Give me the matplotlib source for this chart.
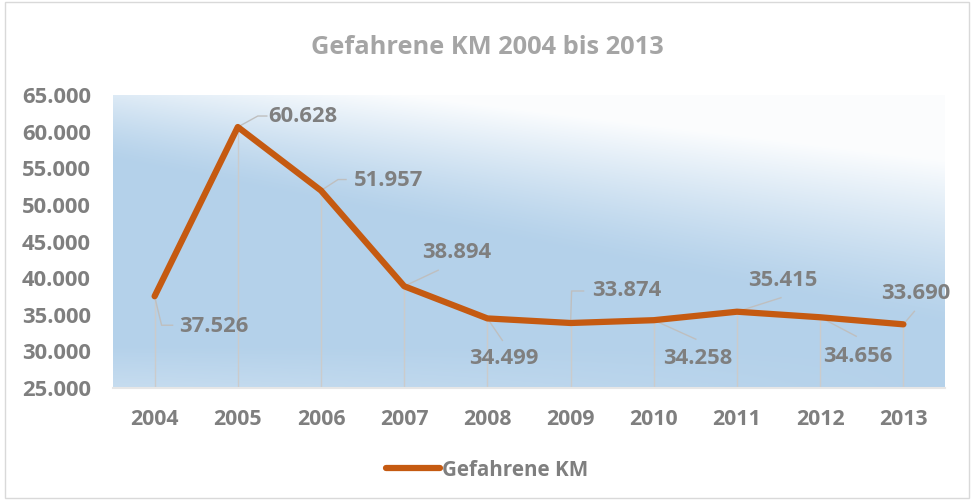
import numpy as np
import matplotlib.pyplot as plt

years = ['2004', '2005', '2006', '2007', '2008', '2009', '2010', '2011', '2012', '2013']
km = [37526, 60628, 51957, 38894, 34499, 33874, 34258, 35415, 34656, 33690]
series_name = 'Gefahrene KM'
title = 'Gefahrene KM 2004 bis 2013'

# label centre offsets in pixels (dx, dy) from each point, y up
label_off = [(59, -30), (65, 11), (68, 10), (52, 34), (16, -40),
             (56, 32), (44, -38), (46, 31), (38, -39), (12, 31)]
# leader line paths (pixel offsets from the point)
leaders = [[(0, 0), (7, -29), (18, -29)],
           [(0, 0), (20, 11), (29, 11)],
           [(0, 0), (17, 11), (25, 11)],
           [(0, 0), (34, 16)],
           [(0, 0), (15, -22)],
           [(0, 0), (1, 32), (13, 32)],
           [(0, 0), (42, -19)],
           [(0, 0), (44, 14)],
           [(0, 0), (36, -19)],
           [(0, 0), (11, 13)]]

plt.rcParams['font.family'] = ['Open Sans', 'DejaVu Sans']
plt.rcParams['font.weight'] = 'bold'
grey = '#7F7F7F'
orange = '#C55A11'

fig = plt.figure(figsize=(9.74, 5), dpi=100)
ax = fig.add_axes([113 / 974, 1 - 388 / 500, 832 / 974, 293 / 500])

# gradient background of the plot area
W, H = 832, 293
px = np.arange(W)[None, :].astype(float)
py = np.arange(H)[:, None].astype(float)
s = (py - 0.12 * px + 35) / (100 + 0.08 * px)
s = np.clip(s, 0, 1)
w = 0.95 * (1 - s) ** 1.3
w = w + np.clip((py - 250) / 43, 0, 1) * 0.25 * (1 - px / W)
w = np.clip(w, 0, 1)
blue = np.array([0.706, 0.820, 0.918])
img = blue[None, None, :] * (1 - w[..., None]) + w[..., None]
ax.imshow(img, extent=[-0.5, 9.5, 25000, 65000], aspect='auto', zorder=0,
          interpolation='bilinear')

x = np.arange(len(years))
ax.vlines(x, 25000, km, color='#CBCBCB', lw=1, zorder=1)
ax.plot(x, km, color=orange, lw=4.5, solid_capstyle='round', zorder=3, label=series_name)

to_pix = ax.transData
inv = ax.transData.inverted()
fig.canvas.draw()
for i, val in enumerate(km):
    p0 = to_pix.transform((x[i], val))
    pts = np.array([inv.transform(p0 + np.array(d)) for d in leaders[i]])
    ax.plot(pts[:, 0], pts[:, 1], color='#BFBFBF', lw=1, zorder=2)
    dx, dy = label_off[i]
    txt = f'{val:,.0f}'.replace(',', '.')
    ax.annotate(txt, (x[i], val), xytext=(dx, dy), textcoords='offset pixels',
                ha='center', va='center', fontsize=15.8, color=grey,
                fontweight='bold', zorder=4)

ax.set_xlim(-0.5, 9.5)
ax.set_ylim(25000, 65000)
ax.set_yticks(range(25000, 65001, 5000))
ax.set_yticklabels([f'{t:,.0f}'.replace(',', '.') for t in range(25000, 65001, 5000)])
ax.set_xticks(x)
ax.set_xticklabels(years)
ax.tick_params(axis='x', length=0, labelsize=15.3, labelcolor=grey, pad=15)
ax.tick_params(axis='y', length=0, labelsize=15.8, labelcolor=grey, pad=16)
for sp in ['top', 'right', 'left']:
    ax.spines[sp].set_visible(False)
ax.spines['bottom'].set_color('#E6E6E6')
ax.spines['bottom'].set_linewidth(1.5)

fig.text(0.5, 1 - 47 / 500, title, ha='center', va='center', fontsize=18.3,
         color='#A5A5A5', fontweight='bold')

leg = fig.legend(loc='center', bbox_to_anchor=(0.5, 1 - 470 / 500), frameon=False,
                 fontsize=14.9, handlelength=2.6, handletextpad=0.1)
for t in leg.get_texts():
    t.set_color(grey)

# outer chart border
fig.patches.append(plt.Rectangle((5 / 974, 2 / 500), 964 / 974, 496 / 500,
                                 transform=fig.transFigure, fill=False,
                                 edgecolor='#D9D9D9', lw=1))

plt.savefig('out.png', dpi=100)
